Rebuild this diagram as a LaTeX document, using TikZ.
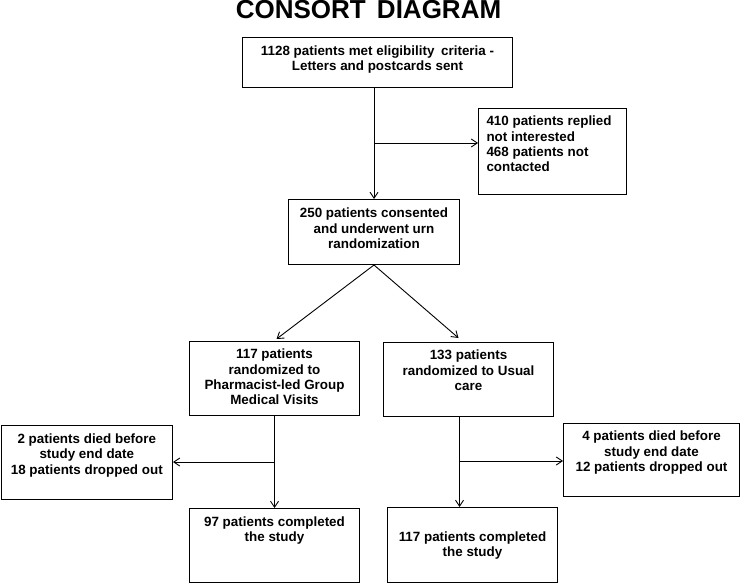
\documentclass[tikz,border=0pt]{standalone}
\usepackage{fontspec}
\setmainfont{Liberation Sans}
\usetikzlibrary{arrows.meta,calc}
\newcommand{\cbx}[4]{\parbox[c][#2pt][t]{#1pt}{\vspace*{#3pt}\centering #4}}
\newcommand{\lbx}[4]{\parbox[c][#2pt][t]{#1pt}{\vspace*{#3pt}\raggedright\leftskip=8pt #4}}
\begin{document}
\begin{tikzpicture}[x=1pt,y=-1pt,
  box/.style={draw, line width=1pt, inner sep=0pt, anchor=north west, font=\bfseries\fontsize{13.4}{15.4}\selectfont},
  arr/.style={line width=0.9pt, -{Straight Barb[length=6pt,width=8pt]}},
  ln/.style={line width=0.9pt}]
\useasboundingbox (0,0) rectangle (740,583);
\node[anchor=base, font=\bfseries\fontsize{26}{30}\selectfont] (title) at (368.5,19) {CONSORT\hspace{4pt} DIAGRAM};
\node[box] (b1) at (242,37) {\cbx{270}{50}{8}{1128 patients met eligibility\hspace{3pt} criteria -\\Letters and postcards sent}};
\node[box] (b410) at (478,108) {\lbx{148}{86}{7.5}{410 patients replied\\not interested\\468 patients not\\contacted}};
\node[box] (b2) at (288,199) {\cbx{171}{65}{8.5}{250 patients consented\\and underwent urn\\randomization}};
\node[box] (b3) at (189,341) {\cbx{170}{74}{7.5}{117 patients\\randomized to\\Pharmacist-led Group\\Medical Visits}};
\node[box] (b133) at (383,342) {\cbx{170}{74}{7.5}{133 patients\\randomized to Usual\\care}};
\node[box] (b2p) at (0.6,425) {\cbx{171.4}{74}{8}{2 patients died before\\study end date\\18 patients dropped out}};
\node[box] (b97) at (189,508) {\cbx{170}{74}{8}{97 patients completed\\the study}};
\node[box] (b4p) at (563,423) {\cbx{176}{73}{7.5}{4 patients died before\\study end date\\12 patients dropped out}};
\node[box] (b117c) at (387,507) {\cbx{170}{75}{24}{117 patients completed\\the study}};
% connectors
\draw[arr] (b1.south -| b2.north) -- (b2.north);
\coordinate (j1) at ($(b1.south -| b2.north)+(0,55)$);
\draw[arr] (j1) -- (j1 -| b410.west);
\draw[arr] (b2.south) -- ($(b3.north)+(2,-2)$);
\draw[arr] (b2.south) -- ($(b133.north)+(-10,-4)$);
\draw[arr] (b3.south) -- (b97.north);
\coordinate (j2) at ($(b3.south)+(0,46)$);
\draw[arr] (j2) -- (j2 -| b2p.east);
\coordinate (v2) at ($(b133.south)+(-9,0)$);
\draw[arr] (v2) -- (v2 |- b117c.north);
\coordinate (j3) at ($(v2)+(0,44)$);
\draw[arr] (j3) -- (j3 -| b4p.west);
\end{tikzpicture}
\end{document}
